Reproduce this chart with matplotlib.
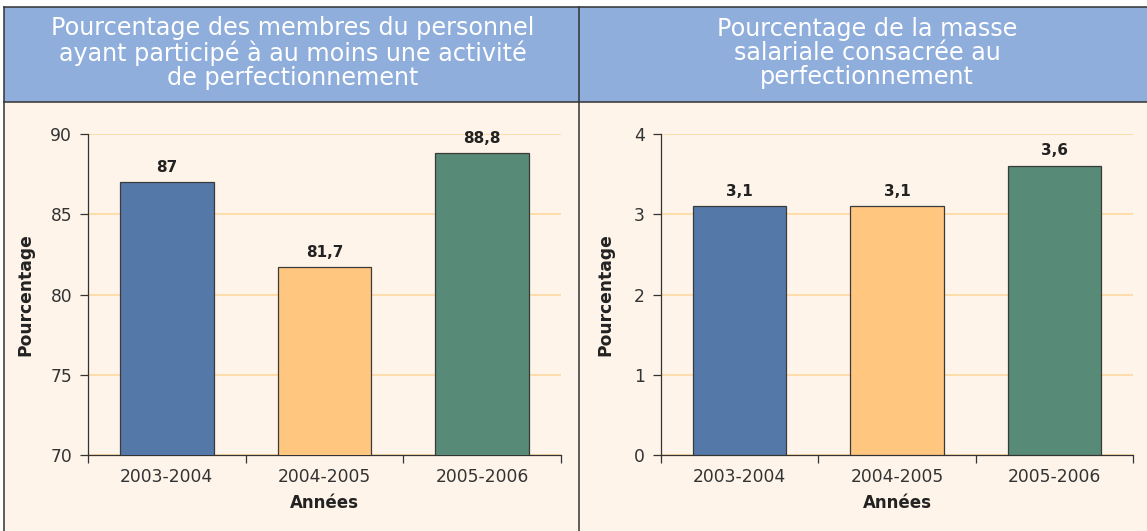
import matplotlib
matplotlib.use("Agg")
import matplotlib.pyplot as plt
from matplotlib.patches import Rectangle
from matplotlib.lines import Line2D

# ---- data ----
categories = ["2003-2004", "2004-2005", "2005-2006"]
participation = [87, 81.7, 88.8]
participation_labels = ["87", "81,7", "88,8"]
masse = [3.1, 3.1, 3.6]
masse_labels = ["3,1", "3,1", "3,6"]
titles = ["Pourcentage des membres du personnel\nayant participé à au moins une activité\nde perfectionnement",
          "Pourcentage de la masse\nsalariale consacrée au\nperfectionnement"]
ylabel = "Pourcentage"
xlabel = "Années"
left_yticks = [70, 75, 80, 85, 90]
right_yticks = [0, 1, 2, 3, 4]

bar_colors = ["#5479A8", "#FFC680", "#578A77"]
header_color = "#8FAEDB"
panel_color = "#FEF4E9"
grid_color = "#FFD79A"
line_color = "#333333"
text_color = "#333333"

W, H = 1147, 531
fig = plt.figure(figsize=(W / 100, H / 100), dpi=100, facecolor="white")
plt.rcParams["font.family"] = ["DejaVu Sans"]


def fx(px):
    return px / W


def fy(py):
    return 1 - py / H


# background panel and header bands
fig.patches.append(Rectangle((fx(4), 0), fx(W) - fx(4), fy(7), transform=fig.transFigure,
                             facecolor=panel_color, edgecolor="none", zorder=-3))
fig.patches.append(Rectangle((fx(4), fy(102)), fx(W) - fx(4), fy(7) - fy(102), transform=fig.transFigure,
                             facecolor=header_color, edgecolor="none", zorder=-3))
for (x0, y0, x1, y1) in [(4, 7, W, 7), (4, 102, W, 102), (4, 7, 4, H), (579, 7, 579, H)]:
    fig.lines.append(Line2D([fx(x0), fx(x1)], [fy(y0), fy(y1)], transform=fig.transFigure,
                            color=line_color, lw=1.1, zorder=-2))

# titles
for title, cx in zip(titles, [293, 867]):
    fig.text(fx(cx), fy(53), title, ha="center", va="center", color="white",
             fontsize=17.2, linespacing=1.0)

axes_specs = [
    (88, 561, participation, participation_labels, left_yticks, -0.114),
    (661, 1133, masse, masse_labels, right_yticks, -0.0996),
]

for (xl, xr, values, labels, yticks, ylab_x) in axes_specs:
    ax = fig.add_axes([fx(xl), fy(455), fx(xr) - fx(xl), fy(134) - fy(455)])
    ax.set_facecolor("none")
    x = list(range(len(categories)))
    bars = ax.bar(x, values, width=0.595, color=bar_colors, edgecolor="#3a3a3a",
                  linewidth=0.9, zorder=3)
    for b, lab in zip(bars, labels):
        ax.annotate(lab, (b.get_x() + b.get_width() / 2, b.get_height()),
                    xytext=(0, 5.5), textcoords="offset points", ha="center", va="bottom",
                    fontsize=11, fontweight="bold", color="#222222")
    ax.set_xlim(-0.5, len(categories) - 0.5)
    ax.set_ylim(yticks[0], yticks[-1])
    ax.set_yticks(yticks)
    ax.set_xticks([i - 0.5 for i in range(len(categories) + 1)])
    ax.set_xticklabels([])
    ax.set_xticks(x, minor=True)
    ax.set_xticklabels(categories, minor=True)
    ax.tick_params(axis="x", which="major", length=6, width=0.9, color=line_color, direction="out")
    ax.tick_params(axis="x", which="minor", length=0, pad=9, labelsize=12.3, labelcolor=text_color)
    ax.tick_params(axis="y", length=6, width=0.9, color=line_color, pad=5.5,
                   labelsize=12.3, labelcolor=text_color)
    for s in ["top", "right"]:
        ax.spines[s].set_visible(False)
    for s in ["left", "bottom"]:
        ax.spines[s].set_color(line_color)
        ax.spines[s].set_linewidth(0.9)
    ax.yaxis.grid(True, color=grid_color, lw=1.1, zorder=0)
    ax.set_axisbelow(True)
    ax.set_ylabel(ylabel, fontsize=12.3, fontweight="bold", color="#222222")
    ax.yaxis.set_label_coords(ylab_x, 0.5)
    ax.set_xlabel(xlabel, fontsize=12, fontweight="bold", color="#222222", labelpad=6)

fig.savefig("out.png", dpi=100, facecolor="white")
